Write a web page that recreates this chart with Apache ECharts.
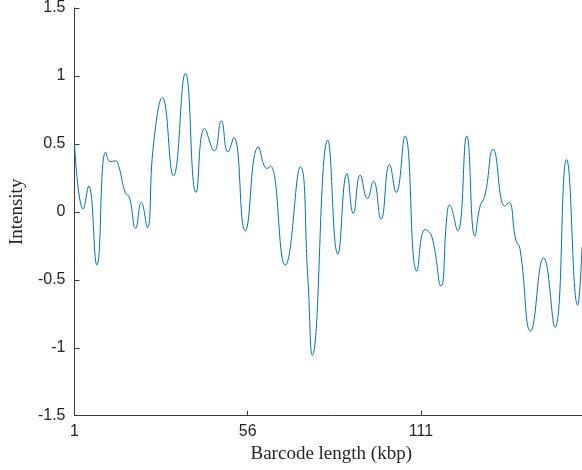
<!DOCTYPE html>
<html>
<head>
<meta charset="utf-8">
<script src="https://cdn.jsdelivr.net/npm/echarts@6/dist/echarts.min.js"></script>
<style>
html,body{margin:0;padding:0;background:#fff;overflow:hidden;width:582px;height:470px;}
#chart{width:588px;height:470px;}
</style>
</head>
<body>
<div id="chart"></div>
<script>
// Barcode position (kbp) of traced points
const positions = [1.0, 3.8, 5.5, 8.1, 10.9, 12.4, 14.0, 15.0, 17.2, 18.4, 20.4, 22.2, 24.1, 26.1, 28.9, 32.4, 36.2, 39.6, 42.3, 45.4, 47.6, 49.7, 51.6, 55.2, 59.4, 62.1, 63.2, 67.9, 72.7, 75.1, 76.5, 81.4, 84.6, 87.5, 89.5, 91.7, 94.0, 95.9, 98.3, 101.0, 103.1, 105.9, 109.7, 112.3, 114.4, 117.3, 119.2, 120.0, 122.6, 125.5, 128.1, 129.7, 131.3, 133.9, 137.6, 138.9, 141.1, 142.4, 145.8, 149.9, 153.5, 157.2, 160.7, 162.1];
// Intensity values
const intensity = [0.50, 0.02, 0.19, -0.39, 0.44, 0.37, 0.375, 0.34, 0.135, 0.11, -0.12, 0.07, -0.115, 0.50, 0.84, 0.265, 1.018, 0.143, 0.613, 0.449, 0.669, 0.441, 0.547, -0.14, 0.478, 0.319, 0.336, -0.392, 0.331, -0.50, -1.054, 0.527, -0.311, 0.282, -0.012, 0.27, 0.098, 0.226, -0.054, 0.348, 0.143, 0.559, -0.436, -0.13, -0.18, -0.546, -0.037, 0.049, -0.14, 0.557, -0.179, 0.037, 0.123, 0.459, 0.042, 0.069, -0.208, -0.27, -0.877, -0.338, -0.85, 0.385, -0.686, -0.257];
const xTicks = [1, 56, 111];
const yTickLabels = ['-1.5', '-1', '-0.5', '0', '0.5', '1', '1.5'];
const xName = 'Barcode length (kbp)';
const yName = 'Intensity';

const chart = echarts.init(document.getElementById('chart'), null, {renderer: 'canvas', width: 588, height: 470});
const axisColor = '#262626';
chart.setOption({
  animation: false,
  backgroundColor: '#ffffff',
  grid: {left: 74, top: 7.7, right: 0, bottom: 54.3, containLabel: false},
  xAxis: {
    type: 'value', min: 1, max: 164,
    name: xName, nameLocation: 'middle', nameGap: 28,
    nameTextStyle: {fontFamily: 'Liberation Serif', fontSize: 19, color: axisColor},
    axisLine: {show: true, onZero: false, lineStyle: {color: '#3a3a3a', width: 1}},
    axisTick: {show: true, inside: true, length: 5, customValues: xTicks, lineStyle: {color: '#3a3a3a'}},
    axisLabel: {customValues: xTicks, margin: 8, fontFamily: 'Liberation Sans', fontSize: 16, color: axisColor},
    splitLine: {show: false}
  },
  yAxis: {
    type: 'value', min: -1.5, max: 1.5, interval: 0.5,
    name: yName, nameLocation: 'middle', nameGap: 44, nameRotate: 90,
    nameTextStyle: {fontFamily: 'Liberation Serif', fontSize: 19, color: axisColor},
    axisLine: {show: true, onZero: false, lineStyle: {color: '#3a3a3a', width: 1}},
    axisTick: {show: true, inside: true, length: 5, lineStyle: {color: '#3a3a3a'}},
    axisLabel: {
      margin: 9, fontFamily: 'Liberation Sans', fontSize: 16, color: axisColor,
      formatter: function (v) { const i = Math.round((v + 1.5) / 0.5); return yTickLabels[i] !== undefined ? yTickLabels[i] : String(v); }
    },
    splitLine: {show: false}
  },
  series: [{
    type: 'line',
    data: positions.map((p, i) => [p, intensity[i]]),
    showSymbol: false,
    smooth: 0.5,
    clip: true,
    lineStyle: {color: '#0072BD', width: 1}
  }]
});
</script>
</body>
</html>
